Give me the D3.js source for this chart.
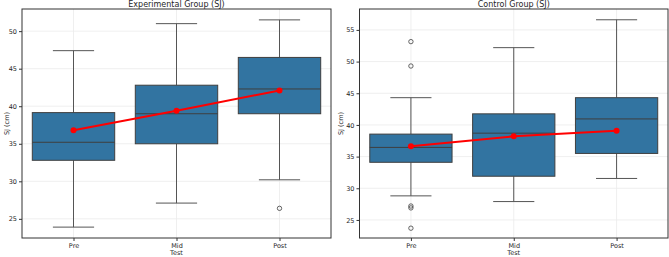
<!DOCTYPE html>
<html>
<head>
<meta charset="utf-8">
<script src="https://cdn.jsdelivr.net/npm/d3@7"></script>
<style>
  body { margin: 0; background: #fff; }
  svg text { font-family: "DejaVu Sans", sans-serif; fill: #262626; }
</style>
</head>
<body>
<div id="content"></div>
<script>
// test phases
var tests = ["Pre", "Mid", "Post"];

// experimental group: whisker low, q1, median, q3, whisker high
var expLow = [23.9, 27.1, 30.2];
var expQ1 = [32.8, 35.0, 39.0];
var expMed = [35.2, 39.0, 42.3];
var expQ3 = [39.15, 42.8, 46.5];
var expHigh = [47.4, 51.0, 51.5];
var expMean = [36.8, 39.4, 42.1];
var expOutliers = [[], [], [26.4]];

// control group
var ctlLow = [28.8, 27.9, 31.55];
var ctlQ1 = [34.1, 31.9, 35.5];
var ctlMed = [36.45, 38.7, 40.95];
var ctlQ3 = [38.55, 41.75, 44.3];
var ctlHigh = [44.3, 52.2, 56.6];
var ctlMean = [36.65, 38.2, 39.1];
var ctlOutliers = [[53.15, 49.3, 27.2, 26.9, 23.7], [], []];

var expTicks = [25, 30, 35, 40, 45, 50];
var ctlTicks = [25, 30, 35, 40, 45, 50, 55];

var width = 669, height = 257;
var svg = d3.select("#content").append("svg")
  .attr("width", width)
  .attr("height", height);

function panel(opt) {
  var x = d3.scaleLinear().domain([-0.5, 2.5]).range([opt.left, opt.right]);
  var y = d3.scaleLinear().domain(opt.ydom).range([238, 9]);
  var g = svg.append("g");
  var bw = (x(1) - x(0)) * 0.8;

  // grid
  g.selectAll(".hg").data(opt.ticks).enter().append("line")
    .attr("x1", opt.left).attr("x2", opt.right)
    .attr("y1", function(d) { return y(d); }).attr("y2", function(d) { return y(d); })
    .attr("stroke", "#ebebeb").attr("stroke-width", 0.8);
  g.selectAll(".vg").data(tests).enter().append("line")
    .attr("x1", function(d, i) { return x(i); }).attr("x2", function(d, i) { return x(i); })
    .attr("y1", 9).attr("y2", 238)
    .attr("stroke", "#ebebeb").attr("stroke-width", 0.8);

  var idx = d3.range(tests.length);
  // whiskers
  g.selectAll(".wl").data(idx).enter().append("line")
    .attr("x1", function(i) { return x(i); }).attr("x2", function(i) { return x(i); })
    .attr("y1", function(i) { return y(opt.q1[i]); }).attr("y2", function(i) { return y(opt.low[i]); })
    .attr("stroke", "#555").attr("stroke-width", 1);
  g.selectAll(".wh").data(idx).enter().append("line")
    .attr("x1", function(i) { return x(i); }).attr("x2", function(i) { return x(i); })
    .attr("y1", function(i) { return y(opt.q3[i]); }).attr("y2", function(i) { return y(opt.high[i]); })
    .attr("stroke", "#555").attr("stroke-width", 1);
  g.selectAll(".cl").data(idx).enter().append("line")
    .attr("x1", function(i) { return x(i) - bw / 4; }).attr("x2", function(i) { return x(i) + bw / 4; })
    .attr("y1", function(i) { return y(opt.low[i]); }).attr("y2", function(i) { return y(opt.low[i]); })
    .attr("stroke", "#555").attr("stroke-width", 1);
  g.selectAll(".ch").data(idx).enter().append("line")
    .attr("x1", function(i) { return x(i) - bw / 4; }).attr("x2", function(i) { return x(i) + bw / 4; })
    .attr("y1", function(i) { return y(opt.high[i]); }).attr("y2", function(i) { return y(opt.high[i]); })
    .attr("stroke", "#555").attr("stroke-width", 1);

  // boxes
  g.selectAll(".box").data(idx).enter().append("rect")
    .attr("x", function(i) { return x(i) - bw / 2; })
    .attr("width", bw)
    .attr("y", function(i) { return y(opt.q3[i]); })
    .attr("height", function(i) { return y(opt.q1[i]) - y(opt.q3[i]); })
    .attr("fill", "#3274a1").attr("stroke", "#3f3f3f").attr("stroke-width", 1);
  g.selectAll(".med").data(idx).enter().append("line")
    .attr("x1", function(i) { return x(i) - bw / 2; }).attr("x2", function(i) { return x(i) + bw / 2; })
    .attr("y1", function(i) { return y(opt.med[i]); }).attr("y2", function(i) { return y(opt.med[i]); })
    .attr("stroke", "#3f3f3f").attr("stroke-width", 1);

  // outliers
  idx.forEach(function(i) {
    g.selectAll(".o" + i).data(opt.out[i]).enter().append("circle")
      .attr("cx", x(i)).attr("cy", function(d) { return y(d); })
      .attr("r", 2.2).attr("fill", "none").attr("stroke", "#3f3f3f").attr("stroke-width", 0.8);
  });

  // mean line
  var line = d3.line().x(function(d, i) { return x(i); }).y(function(d) { return y(d); });
  g.append("path").datum(opt.mean).attr("d", line)
    .attr("fill", "none").attr("stroke", "red").attr("stroke-width", 2);
  g.selectAll(".mean").data(opt.mean).enter().append("circle")
    .attr("cx", function(d, i) { return x(i); }).attr("cy", function(d) { return y(d); })
    .attr("r", 3).attr("fill", "red");

  // frame
  g.append("rect").attr("x", opt.left).attr("y", 9)
    .attr("width", opt.right - opt.left).attr("height", 229)
    .attr("fill", "none").attr("stroke", "#333").attr("stroke-width", 1);

  // axes
  var ya = g.append("g").attr("transform", "translate(" + opt.left + ",0)")
    .call(d3.axisLeft(y).tickValues(opt.ticks).tickSize(3).tickPadding(2));
  ya.select(".domain").remove();
  ya.selectAll("line").attr("stroke", "#333");
  ya.selectAll("text").style("font-size", "6.5px").attr("fill", "#262626");

  var xa = g.append("g").attr("transform", "translate(0,238)")
    .call(d3.axisBottom(x).tickValues(idx).tickFormat(function(i) { return tests[i]; }).tickSize(3).tickPadding(2));
  xa.select(".domain").remove();
  xa.selectAll("line").attr("stroke", "#333");
  xa.selectAll("text").style("font-size", "6.5px").attr("fill", "#262626");

  g.append("text").attr("x", (opt.left + opt.right) / 2).attr("y", 6.5)
    .attr("text-anchor", "middle").style("font-size", "8px").text(opt.title);
  g.append("text").attr("x", (opt.left + opt.right) / 2).attr("y", 255)
    .attr("text-anchor", "middle").style("font-size", "6.5px").text("Test");
  g.append("text").attr("transform", "translate(" + opt.ylx + ",123.5) rotate(-90)")
    .attr("text-anchor", "middle").style("font-size", "6.5px").text("SJ (cm)");
}

panel({
  left: 22, right: 331, ydom: [22.45, 52.95], ticks: expTicks, ylx: 9,
  title: "Experimental Group (SJ)",
  low: expLow, q1: expQ1, med: expMed, q3: expQ3, high: expHigh,
  mean: expMean, out: expOutliers
});
panel({
  left: 359.5, right: 668, ydom: [22.15, 58.3], ticks: ctlTicks, ylx: 343,
  title: "Control Group (SJ)",
  low: ctlLow, q1: ctlQ1, med: ctlMed, q3: ctlQ3, high: ctlHigh,
  mean: ctlMean, out: ctlOutliers
});
</script>
</body>
</html>
